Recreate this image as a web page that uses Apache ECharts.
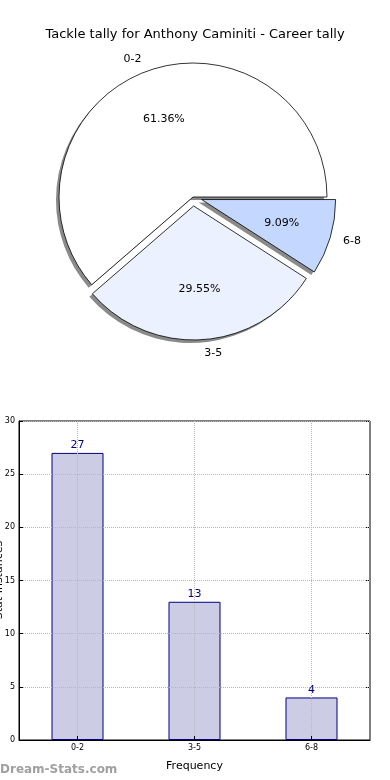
<!DOCTYPE html>
<html><head><meta charset="utf-8">
<script src="https://cdn.jsdelivr.net/npm/echarts@6/dist/echarts.min.js"></script>
<style>html,body{margin:0;padding:0;background:#fff}#c{width:390px;height:780px}</style>
</head><body><div id="c"></div>
<script>
var titleText = 'Tackle tally for Anthony Caminiti - Career tally';
var yAxisTitle = 'Stat Instances';
var xAxisTitle = 'Frequency';
var categories = ['0-2', '3-5', '6-8'];
var values = [27, 13, 4];
var pieColors = ['#ffffff', '#ebf1ff', '#c4d7ff'];
var exploded = [false, true, true];
var yTicks = [0, 5, 10, 15, 20, 25, 30];

var chart = echarts.init(document.getElementById('c'), null, {renderer: 'canvas'});
var FONT = 'DejaVu Sans';
var R = 134;
var CX = 193, CY = 197;

var pieData = categories.map(function (c, i) {
  return {
    name: c, value: values[i], selected: exploded[i],
    itemStyle: {color: pieColors[i]},
    select: {itemStyle: {color: pieColors[i], borderColor: '#000', borderWidth: 0.8}}
  };
});
var plainData = categories.map(function (c, i) {
  return {name: c, value: values[i], selected: exploded[i]};
});

chart.setOption({
  animation: false,
  title: {
    text: titleText, left: 'center', top: 23,
    textStyle: {fontFamily: FONT, fontSize: 13, fontWeight: 'normal', color: '#000'}
  },
  graphic: [{
    type: 'text', left: 0, top: 764,
    style: {text: 'Dream-Stats.com', fontFamily: FONT, fontSize: 12, fontWeight: 'bold', fill: '#a0a0a0'}
  }, {
    type: 'text', x: -1, y: 580, rotation: Math.PI / 2,
    style: {text: yAxisTitle, fontFamily: FONT, fontSize: 11, fill: '#000',
      align: 'center', verticalAlign: 'middle'}
  }],
  grid: [{
    left: 19, right: 20, top: 421, bottom: 40,
    containLabel: false, outerBoundsMode: 'none',
    show: true, borderColor: '#000', borderWidth: 1, backgroundColor: 'transparent'
  }],
  xAxis: [{
    type: 'category', data: categories, gridIndex: 0, z: 5,
    name: xAxisTitle, nameLocation: 'middle', nameGap: 21,
    nameTextStyle: {fontFamily: FONT, fontSize: 11, color: '#000'},
    axisLine: {lineStyle: {color: '#000'}},
    axisTick: {show: true, inside: true, alignWithLabel: true, length: 4, lineStyle: {color: '#000'}},
    axisLabel: {fontFamily: FONT, fontSize: 8, color: '#000', margin: 4},
    splitLine: {show: true, alignWithLabel: true, lineStyle: {color: '#b8b8b8', type: 'dotted', width: 1}}
  }],
  yAxis: [{
    type: 'value', min: 0, max: 30, interval: 5, gridIndex: 0, z: 5,
    axisLine: {show: true, lineStyle: {color: '#000'}},
    axisTick: {show: true, inside: true, length: 4, lineStyle: {color: '#000'}},
    axisLabel: {fontFamily: FONT, fontSize: 8, color: '#000', margin: 4},
    splitLine: {show: true, lineStyle: {color: '#b8b8b8', type: 'dotted', width: 1}}
  }, {
    type: 'value', min: 0, max: 30, interval: 5, gridIndex: 0, position: 'right',
    axisLine: {show: false}, axisLabel: {show: false}, splitLine: {show: false},
    axisTick: {show: true, inside: true, length: 4, lineStyle: {color: '#000'}}
  }],
  series: [{
    // shadow layer
    type: 'pie', center: [CX - 3, CY + 3], radius: [0, R],
    startAngle: 0, clockwise: false, silent: true,
    selectedMode: 'multiple', selectedOffset: 9,
    itemStyle: {color: '#8a8a8a', borderWidth: 0},
    select: {itemStyle: {color: '#8a8a8a', borderWidth: 0}},
    label: {show: false}, labelLine: {show: false},
    emphasis: {disabled: true},
    data: plainData, z: 1
  }, {
    type: 'pie', center: [CX, CY], radius: [0, R],
    startAngle: 0, clockwise: false,
    selectedMode: 'multiple', selectedOffset: 9,
    avoidLabelOverlap: false,
    itemStyle: {borderColor: '#000', borderWidth: 0.8},
    label: {show: true, position: 'outside', formatter: '{b}', distanceToLabelLine: 0,
      fontFamily: FONT, fontSize: 11, color: '#000'},
    labelLine: {show: false, length: R * 0.1, length2: 0},
    emphasis: {disabled: true},
    data: pieData, z: 2
  }, {
    type: 'pie', center: [CX, CY], radius: [0, R * 1.2],
    startAngle: 0, clockwise: false, silent: true,
    selectedMode: 'multiple', selectedOffset: 9,
    avoidLabelOverlap: false,
    itemStyle: {color: 'rgba(0,0,0,0)', borderWidth: 0},
    select: {itemStyle: {color: 'rgba(0,0,0,0)', borderWidth: 0}},
    label: {show: true, position: 'inside', formatter: '{d}%',
      fontFamily: FONT, fontSize: 11, color: '#000'},
    labelLine: {show: false},
    emphasis: {disabled: true},
    data: plainData, z: 3
  }, {
    type: 'bar', xAxisIndex: 0, yAxisIndex: 0, data: values, barWidth: 52,
    itemStyle: {color: '#ccccE5', borderColor: '#000080', borderWidth: 1},
    label: {show: true, position: 'top', distance: 2, fontFamily: FONT, fontSize: 11, color: '#000080'},
    emphasis: {disabled: true}
  }]
});
</script></body></html>
